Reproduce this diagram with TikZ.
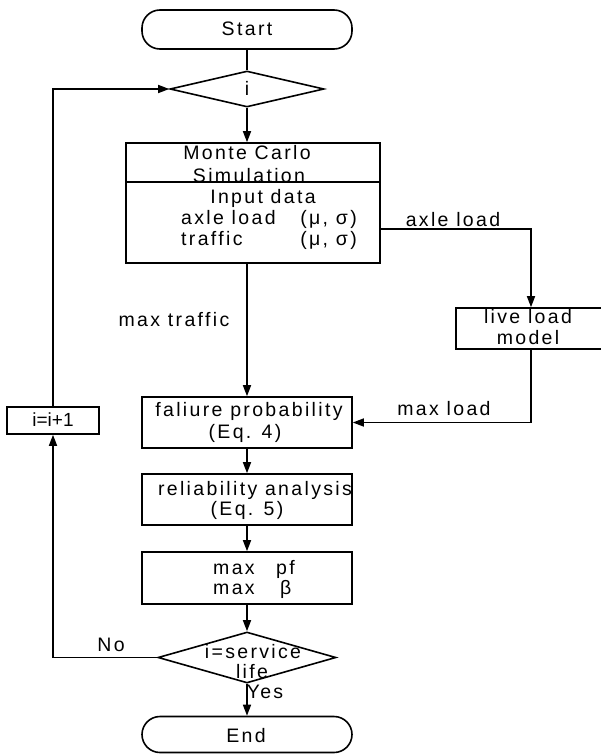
\documentclass[tikz,border=0pt]{standalone}
\usepackage{fontspec}
\setmainfont{Liberation Sans}[LetterSpace=12]
\newfontfamily\tightfont{Liberation Sans}
\usetikzlibrary{arrows.meta,shapes.geometric}

\tikzset{
  flow/.style={line width=1.6pt, draw=black},
  arr/.style={flow, -{Triangle[length=11pt,width=8pt]}},
  box/.style={draw=black, line width=1.6pt, rectangle, inner sep=0pt},
  term/.style={box, rounded corners=18pt},
  decide/.style={draw=black, line width=1.6pt, diamond, inner sep=0pt, aspect=1},
  txt/.style={inner sep=0pt, font=\fontsize{19.5}{22}\selectfont, text height=0.72em, text depth=0.2em, yshift=-4pt},
}

\begin{document}
\begin{tikzpicture}[x=1pt, y=-1pt]
\useasboundingbox (0,0) rectangle (601,755);

% blocks of the main column
\node[term, minimum width=210pt, minimum height=39pt] (start) at (247,29.5) {};
\node[decide, minimum width=154pt, minimum height=36pt] (di) at (247,89) {};
\node[box, minimum width=254pt, minimum height=39pt] (mct) at (253,162.5) {};
\node[box, minimum width=254pt, minimum height=81pt] (mcb) at (253,222.5) {};
\node[box, minimum width=150pt, minimum height=41pt] (live) at (531,328.5) {};
\node[box, minimum width=210pt, minimum height=51pt] (fail) at (247,422.5) {};
\node[box, minimum width=210pt, minimum height=51pt] (rel) at (247,499.5) {};
\node[box, minimum width=210pt, minimum height=52pt] (maxb) at (247,578) {};
\node[decide, minimum width=178pt, minimum height=51pt] (svc) at (247,657.5) {};
\node[term, minimum width=210pt, minimum height=36pt] (endn) at (247,734.5) {};
\node[box, minimum width=92pt, minimum height=27pt] (inc) at (53,420.5) {};

% texts
\node[txt] (tstart) at (247,29) {Start};
\node[txt] (ti) at (247,89) {i};
\node[txt] (tmc1) at (247,153) {Monte Carlo};
\node[txt] (tmc2) at (249,176) {Simulation};
\node[txt] (tin) at (263,197) {Input data};
\node[txt, anchor=west] (tax) at (181,218) {axle load};
\node[txt, anchor=east] (tax2) at (357,218) {(μ, σ)};
\node[txt, anchor=west] (ttr) at (181,239) {traffic};
\node[txt, anchor=east] (ttr2) at (357,239) {(μ, σ)};
\node[txt] (tlive1) at (528,317) {live load};
\node[txt] (tlive2) at (528,338) {model};
\node[txt] (tf1) at (249,410) {faliure probability};
\node[txt] (tf2) at (245,432) {(Eq. 4)};
\node[txt] (tr1) at (255,489) {reliability analysis};
\node[txt] (tr2) at (247,509) {(Eq. 5)};
\node[txt, anchor=west] (tm1) at (213,568) {max};
\node[txt, anchor=west] (tm2) at (276,568) {pf};
\node[txt, anchor=west] (tm3) at (213,588) {max};
\node[txt, anchor=west] (tm4) at (280,588) {β};
\node[txt] (ts1) at (253,652) {i=service};
\node[txt] (ts2) at (252,672) {life};
\node[txt] (tend) at (246,736) {End};
\node[txt, font=\tightfont\fontsize{19}{22}\selectfont] (tinc) at (53,420) {i=i+1};

% connector labels
\node[txt] (laxle) at (453,220) {axle load};
\node[txt] (ltraffic) at (174,320) {max traffic};
\node[txt] (lload) at (444,409) {max load};
\node[txt] (lno) at (111,645) {No};
\node[txt] (lyes) at (265,692) {Yes};

% connectors
\draw[flow] (start.south) -- (di.north);
\draw[arr] (di.south) -- (di.south |- mct.north);
\draw[arr] ([yshift=-6.5pt]mcb.east) -| (live.north);
\draw[arr] (fail.north |- mcb.south) -- (fail.north);
\draw[arr] (live.south) |- (fail.east);
\draw[arr] (fail.south) -- (rel.north);
\draw[arr] (rel.south) -- (maxb.north);
\draw[arr] (maxb.south) -- (svc.north);
\draw[arr] (svc.south) -- (endn.north);
\draw[arr] (svc.west) -| (inc.south);
\draw[arr] (inc.north) |- (di.west);
\end{tikzpicture}
\end{document}
